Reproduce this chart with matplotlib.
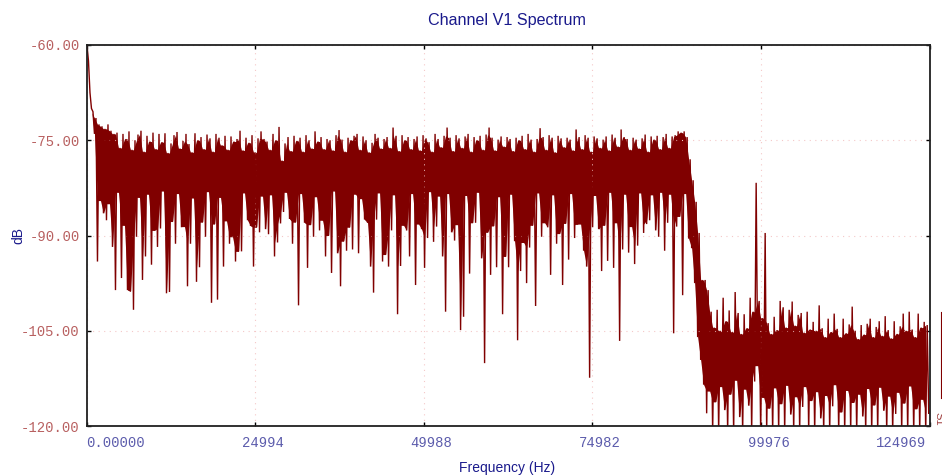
import numpy as np
import matplotlib
matplotlib.use("Agg")
import matplotlib.pyplot as plt
from matplotlib.lines import Line2D
from matplotlib.transforms import ScaledTranslation

# spectrum bins: each bin holds the peak and trough level (dB) seen in it
f_start = 70.0
f_stop = 124630.0

peak_db = [
    -60.0, -67.5, -70.5, -71.5, -72.5, -72.8, -73.2, -72.5, -73.5, -74.0,
    -73.8, -76.2, -74.0, -74.8, -73.6, -76.5, -75.0, -74.1, -73.5, -76.8,
    -74.3, -75.2, -73.8, -76.4, -74.0, -75.3, -73.9, -77.0, -75.5, -74.2,
    -73.7, -76.3, -75.1, -74.0, -75.6, -76.9, -73.9, -75.0, -74.5, -76.4,
    -74.1, -74.7, -76.8, -74.0, -74.6, -75.8, -74.3, -76.5, -74.4, -75.2,
    -74.8, -73.5, -76.6, -74.6, -75.4, -74.2, -76.9, -74.7, -73.6, -74.8,
    -75.2, -76.5, -74.0, -75.0, -72.9, -78.2, -75.5, -74.5, -76.7, -74.3,
    -75.1, -74.6, -76.8, -74.2, -75.0, -76.3, -73.6, -75.2, -74.5, -76.4,
    -74.8, -75.0, -76.6, -74.2, -73.4, -74.9, -76.8, -74.6, -75.0, -74.3,
    -74.0, -76.5, -74.4, -75.0, -76.9, -75.4, -74.0, -74.6, -76.3, -74.8,
    -74.5, -76.2, -73.0, -74.3, -76.7, -74.2, -75.0, -74.5, -76.4, -74.8,
    -74.4, -76.6, -74.2, -74.7, -75.3, -76.8, -74.0, -74.8, -76.1, -74.3,
    -73.0, -74.6, -76.7, -74.2, -74.7, -76.2, -74.4, -74.0, -76.8, -74.5,
    -75.0, -74.3, -76.5, -74.1, -73.0, -74.6, -76.6, -74.9, -74.4, -76.0,
    -74.5, -74.8, -76.7, -74.6, -75.0, -74.3, -76.4, -74.0, -74.9, -76.8,
    -74.8, -73.1, -74.5, -76.5, -74.2, -74.6, -76.9, -74.3, -74.7, -76.1,
    -74.6, -74.9, -76.6, -73.3, -74.5, -76.4, -74.2, -74.6, -76.8, -74.4,
    -74.7, -76.2, -74.9, -74.4, -76.6, -74.1, -74.6, -76.0, -73.3, -74.5,
    -74.8, -76.5, -74.6, -74.9, -76.3, -74.7, -74.1, -76.8, -74.4, -74.9,
    -74.3, -76.4, -74.5, -74.0, -76.2, -74.4, -74.2, -73.6, -73.8, -73.6,
    -74.5, -78.0, -81.3, -84.7, -89.6, -97.0,
    -97.0, -98.6, -102.0, -104.5, -101.7, -105.0, -99.8, -103.5, -101.8, -105.2,
    -98.9, -102.2, -105.5, -102.4, -104.6, -99.8, -102.0, -81.7, -100.3, -103.0,
    -89.6, -103.8, -105.5, -102.8, -104.9, -100.3, -101.3, -104.5, -101.7, -100.4,
    -104.2, -102.5, -102.2, -105.3, -102.0, -104.8, -103.6, -105.0, -101.0, -104.6,
    -106.0, -103.1, -105.2, -102.3, -104.7, -106.0, -103.1, -105.4, -104.0, -101.2,
    -105.0, -106.3, -104.1, -105.6, -103.9, -103.1, -106.0, -104.4, -103.5, -105.8,
    -102.7, -104.9, -106.2, -103.5, -105.5, -104.3, -102.3, -105.0, -102.0, -104.8,
    -106.0, -102.3, -104.5, -103.6, -104.1,
]

trough_db = [
    -62.5, -70.0, -74.0, -94.1, -84.5, -86.5, -87.6, -85.0, -91.8, -98.6,
    -83.2, -96.7, -88.4, -98.6, -98.8, -101.7, -90.2, -84.0, -97.0, -93.3,
    -83.5, -94.6, -89.2, -91.8, -88.9, -83.0, -99.1, -98.9, -87.8, -91.3,
    -83.4, -88.7, -88.6, -98.0, -91.3, -84.1, -97.3, -95.0, -87.9, -90.2,
    -83.1, -100.6, -88.2, -100.1, -84.0, -94.9, -87.7, -91.3, -90.2, -94.1,
    -92.5, -92.5, -83.3, -87.6, -88.5, -94.9, -88.7, -89.5, -83.8, -89.0,
    -89.8, -83.6, -93.3, -91.1, -88.1, -86.3, -83.2, -87.4, -91.3, -87.9,
    -101.0, -83.4, -88.0, -95.1, -88.3, -90.2, -83.9, -89.2, -87.6, -93.3,
    -90.0, -95.9, -83.0, -92.8, -98.0, -90.9, -92.4, -88.7, -92.2, -83.5,
    -92.8, -84.2, -87.5, -88.0, -94.9, -99.0, -87.5, -83.3, -94.1, -93.0,
    -94.9, -89.2, -83.6, -102.4, -94.8, -88.4, -89.2, -93.3, -83.4, -97.8,
    -88.2, -89.0, -95.1, -90.4, -83.1, -91.0, -88.6, -83.8, -93.3, -102.0,
    -83.4, -89.5, -90.8, -88.3, -104.9, -102.8, -83.7, -96.0, -88.0, -88.0,
    -83.2, -93.6, -110.1, -89.5, -96.2, -88.5, -95.0, -83.9, -102.4, -93.3,
    -95.0, -83.5, -90.9, -106.5, -95.6, -91.1, -97.5, -91.9, -88.4, -101.1,
    -83.3, -90.2, -88.0, -88.7, -96.2, -83.6, -91.3, -89.7, -97.8, -88.1,
    -93.8, -83.4, -90.4, -88.3, -88.2, -92.4, -94.9, -112.4, -88.7, -83.7,
    -89.0, -95.6, -88.4, -94.0, -83.2, -95.1, -88.0, -106.6, -92.2, -83.5,
    -92.7, -88.6, -94.5, -91.6, -83.3, -89.6, -88.2, -87.6, -83.6, -89.2,
    -90.2, -83.2, -92.4, -88.0, -83.5, -105.4, -88.6, -87.0, -99.4, -83.4,
    -90.5, -92.0, -97.5, -106.0, -109.6, -113.5,
    -118.0, -114.5, -121.0, -116.2, -121.0, -113.8, -117.5, -121.0, -115.0, -121.0,
    -112.8, -118.6, -121.0, -114.2, -116.8, -121.0, -113.0, -110.5, -121.0, -115.5,
    -121.0, -117.2, -121.0, -114.0, -121.0, -116.5, -121.0, -113.6, -118.2, -121.0,
    -115.4, -121.0, -117.0, -113.8, -121.0, -116.0, -121.0, -114.6, -118.8, -121.0,
    -115.2, -121.0, -116.9, -113.5, -121.0, -117.8, -121.0, -114.4, -121.0, -116.3,
    -121.0, -115.0, -118.5, -121.0, -114.1, -121.0, -116.7, -121.0, -113.9, -117.6,
    -121.0, -115.3, -121.0, -118.1, -114.7, -121.0, -116.4, -121.0, -113.7, -121.0,
    -117.3, -121.0, -115.8, -121.0, -118.0,
]

xtick_vals = [0, 24994, 49988, 74982, 99976, 124969]
xtick_labels = ["0.00000", "24994", "49988", "74982", "99976", "124969"]
ytick_vals = [-60, -75, -90, -105, -120]

line_color = "#800000"

n = len(peak_db)
freq = np.linspace(f_start, f_stop, n)
step = freq[1] - freq[0]
hi = np.array(peak_db)
lo = np.array(trough_db)

# zigzag through peak/trough of every bin
x = np.empty(2 * n)
y = np.empty(2 * n)
x[0::2] = freq
x[1::2] = freq + step / 2
y[0::2] = hi
y[1::2] = lo

fig = plt.figure(figsize=(9.42, 4.76), dpi=100)
ax = fig.add_axes([86.5 / 942, 50 / 476, 843 / 942, 381 / 476])

# dense samples paint a solid core where neighbouring bins overlap
core_top = np.minimum(hi[:-1], hi[1:])
core_bot = np.maximum(lo[:-1], lo[1:])
xc = freq[:-1] + step / 2
ax.fill_between(xc, core_bot, core_top, where=core_top > core_bot,
                color=line_color, lw=0, interpolate=True)
ax.plot(x, y, color=line_color, lw=1.0, solid_joinstyle="miter")

ax.set_xlim(0, 124969)
ax.set_ylim(-120, -60)

mono = "Liberation Mono"
ax.set_xticks(xtick_vals)
ax.set_xticklabels(xtick_labels, family=mono, fontsize=10, color="#5c5cac")
ax.set_yticks(ytick_vals)
ax.set_yticklabels(["%.2f" % v for v in ytick_vals], family=mono, fontsize=10, color="#b86060")
ax.tick_params(direction="in", length=3, width=1, top=True, right=True, pad=5)
ax.tick_params(axis="x", pad=7)

# shift x labels the way the source plot lays them out
for i, lab in enumerate(ax.get_xticklabels()):
    if i == 0:
        lab.set_ha("left")
        dx = 0
    elif i == len(xtick_vals) - 1:
        lab.set_ha("right")
        dx = -3
    else:
        lab.set_ha("left")
        dx = -13
    lab.set_transform(lab.get_transform() + ScaledTranslation(dx / 100, 0, fig.dpi_scale_trans))

ax.grid(True, color="#f4c8c8", linestyle=(0, (1, 4)), lw=0.8)
for s in ax.spines.values():
    s.set_linewidth(1.3)
    s.set_color("#202020")

fig.text(507 / 942, 1 - 20 / 476, "Channel V1 Spectrum", ha="center", va="center",
         fontsize=11.6, color="#1a1a8c", family="Liberation Sans")
fig.text(507 / 942, 1 - 468 / 476, "Frequency (Hz)", ha="center", va="center",
         fontsize=10, color="#1a1a8c", family="Liberation Sans")
fig.text(18 / 942, 1 - 236 / 476, "dB", ha="center", va="center", rotation=90,
         fontsize=10, color="#1a1a8c", family="Liberation Sans")

# vertical legend at the right edge
fig.add_artist(Line2D([940.5 / 942] * 2, [1 - 312 / 476, 1 - 398 / 476],
                      color=line_color, lw=0.8))
fig.text(938 / 942, 1 - 419 / 476, "S1", ha="center", va="center", rotation=270,
         fontsize=8, color="#a04040", family="Liberation Sans")

fig.savefig("out.png", dpi=100)
